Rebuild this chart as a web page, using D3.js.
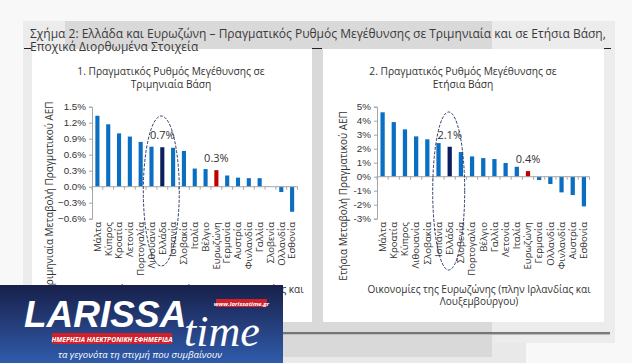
<!DOCTYPE html>
<html><head><meta charset="utf-8">
<script src="https://cdn.jsdelivr.net/npm/d3@7"></script>
<style>
html,body{margin:0;padding:0;background:#f7f7f7;}
svg{display:block;font-family:"Open Sans","Noto Sans",sans-serif;}
</style></head>
<body>
<svg id="c" width="632" height="363"></svg>
<script>
// ---- data ----
const titleLines = ["Σχήμα 2: Ελλάδα και Ευρωζώνη – Πραγματικός Ρυθμός Μεγέθυνσης σε Τριμηνιαία και σε Ετήσια Βάση,", "Εποχικά Διορθωμένα Στοιχεία"];
const q_title = ["1. Πραγματικός Ρυθμός Μεγέθυνσης σε", "Τριμηνιαία Βάση"];
const q_categories = ["Μάλτα","Κύπρος","Κροατία","Λετονία","Πορτογαλία","Λιθουανία","Ελλάδα","Ισπανία","Σλοβακία","Ιταλία","Βέλγιο","Ευρωζώνη","Γερμανία","Αυστρία","Φινλανδία","Γαλλία","Σλοβενία","Ολλανδία","Εσθονία"];
const q_values = [1.33,1.17,1.0,0.94,0.84,0.75,0.74,0.73,0.67,0.34,0.33,0.31,0.21,0.17,0.16,0.16,0.0,-0.1,-0.47];
const q_ticks = [-0.6,-0.3,0.0,0.3,0.6,0.9,1.2,1.5];
const q_ylabel = "Τριμηνιαία Μεταβολή Πραγματικού ΑΕΠ";
const q_labels = {"Ελλάδα":"0.7%","Ευρωζώνη":"0.3%"};

const a_title = ["2. Πραγματικός Ρυθμός Μεγέθυνσης σε", "Ετήσια Βάση"];
const a_categories = ["Μάλτα","Κροατία","Κύπρος","Λιθουανία","Σλοβακία","Ισπανία","Ελλάδα","Σλοβενία","Πορτογαλία","Βέλγιο","Γαλλία","Λετονία","Ιταλία","Ευρωζώνη","Γερμανία","Ολλανδία","Φινλανδία","Αυστρία","Εσθονία"];
const a_values = [4.6,3.9,3.38,2.88,2.67,2.4,2.14,1.76,1.45,1.33,1.26,0.98,0.71,0.4,-0.24,-0.52,-1.12,-1.31,-2.12];
const a_ticks = [-3,-2,-1,0,1,2,3,4,5];
const a_ylabel = "Ετήσια Μεταβολή Πραγματικού ΑΕΠ";
const a_labels = {"Ελλάδα":"2.1%","Ευρωζώνη":"0.4%"};

const xTitle = ["Οικονομίες της Ευρωζώνης (πλην Ιρλανδίας και", "Λουξεμβούργου)"];

const svg = d3.select("#c");
// ---- background ----
svg.append("rect").attr("x",0).attr("y",0).attr("width",632).attr("height",363).attr("fill","#f8f8f8");
svg.append("rect").attr("x",283).attr("y",343).attr("width",243).attr("height",20).attr("fill","#e9e9e9");
svg.append("rect").attr("x",23).attr("y",21).attr("width",592).attr("height",322).attr("fill","#ececec");
svg.append("rect").attr("x",65).attr("y",21).attr("width",427).attr("height",28).attr("fill","#d9d9d9");
svg.append("rect").attr("x",312).attr("y",49).attr("width",11).attr("height",273).attr("fill","#d9d9d9");
svg.append("rect").attr("x",283).attr("y",322).attr("width",209).attr("height",35).attr("fill","#d9d9d9");
svg.append("rect").attr("x",32).attr("y",49).attr("width",280).attr("height",273).attr("fill","#ffffff");
svg.append("rect").attr("x",323).attr("y",49).attr("width",281).attr("height",273).attr("fill","#ffffff");
svg.append("line").attr("x1",23).attr("x2",610).attr("y1",333).attr("y2",333).attr("stroke","#555").attr("stroke-width",1.5);
svg.append("line").attr("x1",23).attr("x2",610).attr("y1",334.5).attr("y2",334.5).attr("stroke","#bbb").attr("stroke-width",1);
[[24,31],[312,322],[604,611]].forEach(d=>svg.append("line").attr("x1",d[0]).attr("x2",d[1]).attr("y1",48.5).attr("y2",48.5).attr("stroke","#222").attr("stroke-width",1));

svg.append("g").selectAll("text").data(titleLines).join("text")
  .attr("x",30).attr("y",(d,i)=>37.5+i*13.5).attr("font-size",12).attr("fill","#3a3a3a").text(d=>d);

function drawChart(o){
  const g = svg.append("g");
  const x = d3.scaleBand().domain(o.categories).range(o.xr).paddingInner(0.62).paddingOuter(0.31);
  const y = d3.scaleLinear().domain([o.ticks[0], o.ticks[o.ticks.length-1]]).range([218.7,106.7]);
  // title
  g.selectAll("text.t").data(o.title).join("text").attr("class","t")
    .attr("x",o.tx).attr("y",(d,i)=>75+i*12.5).attr("text-anchor","middle")
    .attr("font-size",10.2).attr("fill","#333").text(d=>d);
  // y axis
  const ya = g.append("g").attr("transform",`translate(${o.xr[0]},0)`)
    .call(d3.axisLeft(y).tickValues(o.ticks).tickSize(3).tickPadding(3).tickFormat(o.fmt));
  ya.select(".domain").attr("stroke","#a6a6a6");
  ya.selectAll(".tick line").attr("stroke","#a6a6a6");
  ya.selectAll(".tick text").attr("font-size",9.8).attr("fill","#333").attr("font-family","inherit");
  // bars
  g.selectAll("rect.b").data(o.categories).join("rect").attr("class","b")
    .attr("x",d=>x(d)).attr("width",x.bandwidth())
    .attr("y",(d,i)=>y(Math.max(0,o.values[i])))
    .attr("height",(d,i)=>Math.abs(y(o.values[i])-y(0)))
    .attr("fill",d=>d==="Ελλάδα"?"#0b1f5e":(d==="Ευρωζώνη"?"#c00000":"#0a6fc2"));
  // x axis at zero
  const y0 = y(0);
  g.append("line").attr("x1",o.xr[0]).attr("x2",o.xr[1]).attr("y1",y0).attr("y2",y0).attr("stroke","#a6a6a6");
  const step = x.step();
  const bounds = o.categories.map((d,i)=>o.xr[0]+i*step).concat([o.xr[1]]);
  g.selectAll("line.xt").data(bounds).join("line").attr("class","xt")
    .attr("x1",d=>d).attr("x2",d=>d).attr("y1",y0).attr("y2",y0+3).attr("stroke","#a6a6a6");
  // category labels
  g.selectAll("text.c").data(o.categories).join("text").attr("class","c")
    .attr("transform",d=>`translate(${x(d)+x.bandwidth()/2+3.3},222) rotate(-90)`)
    .attr("text-anchor","end").attr("font-size",9.6).attr("fill","#333").text(d=>d);
  // value labels
  Object.keys(o.labels).forEach(k=>{
    const i = o.categories.indexOf(k);
    g.append("text").attr("x",x(k)+x.bandwidth()/2).attr("y",y(o.values[i])-8)
      .attr("text-anchor","middle").attr("font-size",11).attr("fill","#333").text(o.labels[k]);
  });
  // ellipse
  g.append("ellipse").attr("cx",x("Ελλάδα")+x.bandwidth()/2-1).attr("cy",191).attr("rx",o.erx).attr("ry",o.ery)
    .attr("fill","none").attr("stroke","#2b3a6b").attr("stroke-width",1).attr("stroke-dasharray","3,1.5");
  // y label
  g.append("text").attr("transform",`translate(${o.ylx},${o.yly}) rotate(-90)`).attr("text-anchor","middle")
    .attr("font-size",10).attr("fill","#333").text(o.ylabel);
  // x title
  g.selectAll("text.xt2").data(xTitle).join("text").attr("class","xt2")
    .attr("x",o.xtx).attr("y",(d,i)=>293+i*12).attr("text-anchor","middle")
    .attr("font-size",10).attr("fill","#333").text(d=>d);
}

drawChart({categories:q_categories, values:q_values, ticks:q_ticks, title:q_title, labels:q_labels,
  ylabel:q_ylabel, xr:[92,297.5], tx:171, ylx:53, yly:196, xtx:192, erx:18, ery:75,
  fmt:d=>d3.format(".1f")(d)+"%"});
drawChart({categories:a_categories, values:a_values, ticks:a_ticks, title:a_title, labels:a_labels,
  ylabel:a_ylabel, xr:[377,589.5], tx:463, ylx:347, yly:196, xtx:479, erx:16, ery:79,
  fmt:d=>d+"%"});

// ---- logo overlay ----
const defs = svg.append("defs");
const lg = defs.append("linearGradient").attr("id","lg").attr("x1",0).attr("y1",0).attr("x2",0).attr("y2",1);
lg.append("stop").attr("offset","0").attr("stop-color","#17204a");
lg.append("stop").attr("offset","0.55").attr("stop-color","#26407f");
lg.append("stop").attr("offset","1").attr("stop-color","#2f5cab");
const L = svg.append("g");
L.append("rect").attr("x",0).attr("y",285).attr("width",283).attr("height",78).attr("fill","url(#lg)");
L.append("text").attr("x",24).attr("y",327).attr("font-size",37).attr("font-weight","bold").attr("font-style","italic")
  .attr("fill","#fff").attr("font-family","Liberation Sans,Arial,sans-serif").text("LARISSA");
L.append("text").attr("x",184).attr("y",346).attr("font-size",44).attr("font-style","italic")
  .attr("fill","#fff").attr("font-family","Liberation Serif,serif").text("time");
L.append("rect").attr("x",216).attr("y",299).attr("width",51).attr("height",8).attr("fill","#d0202a");
L.append("text").attr("x",241.5).attr("y",305.5).attr("text-anchor","middle").attr("font-size",6).attr("font-weight","bold").attr("font-style","italic")
  .attr("fill","#fff").text("www.larissatime.gr");
L.append("rect").attr("x",52).attr("y",333).attr("width",120).attr("height",11).attr("fill","#d0202a");
L.append("text").attr("x",112).attr("y",341.5).attr("text-anchor","middle").attr("font-size",6.8).attr("font-weight","bold").attr("font-style","italic")
  .attr("fill","#fff").text("ΗΜΕΡΗΣΙΑ ΗΛΕΚΤΡΟΝΙΚΗ ΕΦΗΜΕΡΙΔΑ");
L.append("text").attr("x",140).attr("y",358).attr("text-anchor","middle").attr("font-size",9.5).attr("font-style","italic")
  .attr("fill","#fff").text("τα γεγονότα τη στιγμή που συμβαίνουν");
</script>
</body></html>
